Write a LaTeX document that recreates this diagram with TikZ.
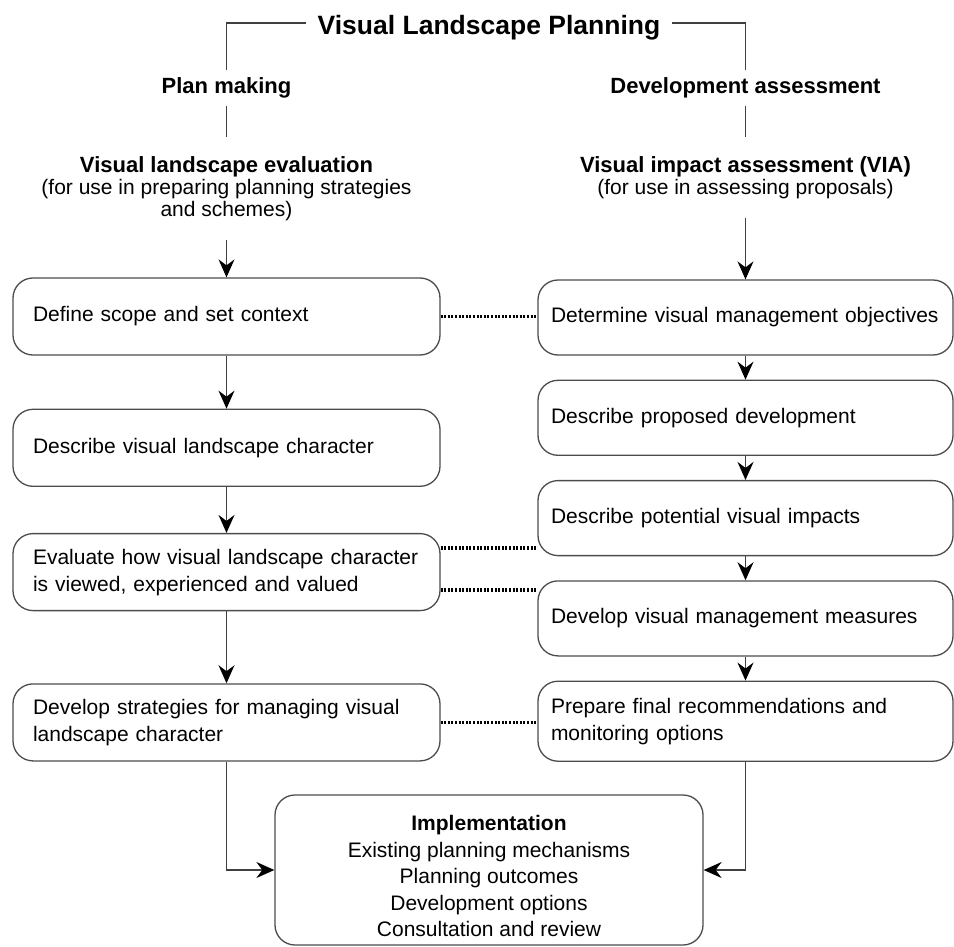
\documentclass[tikz,border=0pt]{standalone}
\usepackage{fontspec}
\setmainfont{Liberation Sans}
\usetikzlibrary{arrows.meta,positioning}

\begin{document}
\begin{tikzpicture}[
  x=1pt, y=1pt,
  node distance=24pt,
  lbox/.style={rectangle, draw=black!70, line width=1.3pt, rounded corners=20pt, text width=387pt, inner xsep=20pt, align=left, minimum height=77pt, font=\fontsize{21}{27}\selectfont},
  rbox/.style={lbox, text width=389pt, inner xsep=13pt, minimum height=75pt},
  implbox/.style={rectangle, draw=black!70, line width=1.3pt, rounded corners=20pt, align=center, minimum width=428pt, minimum height=150pt, font=\fontsize{21}{26.5}\selectfont},
  titlebox/.style={font=\fontsize{26.5}{30}\selectfont\bfseries, text height=24pt, text depth=0pt, inner xsep=11pt},
  heading/.style={font=\fontsize{22}{26}\selectfont\bfseries, text height=16pt, text depth=5pt, inner ysep=7.5pt},
  subhead/.style={font=\fontsize{21}{22}\selectfont, align=center, inner ysep=19pt},
  link/.style={line width=1.3pt, draw=black!75},
  arrow/.style={link, -{Stealth[length=18pt,width=16pt,inset=6pt,color=black]}},
  dotline/.style={line width=3.5pt, dash pattern=on 2pt off 1.6pt, draw=black}
]
\useasboundingbox (0,0) rectangle (954,-947);

% Title and the two streams
\node[titlebox] (title) at (489,-23) {Visual Landscape Planning};
\node[heading] (plan) at (226.5,-88) {Plan making};
\node[heading] (devass) at (745.5,-88) {Development assessment};
\node[subhead, below=31pt of plan] (vle) {{\fontsize{22}{22}\selectfont\bfseries Visual landscape evaluation}\\(for use in preparing planning strategies\\and schemes)};
\node[subhead, below=31pt of devass] (via) {{\fontsize{22}{22}\selectfont\bfseries Visual impact assessment (VIA)}\\(for use in assessing proposals)};

% Plan making
\node[lbox] (scope) at (226.5,-316.5) {Define scope and set context};
\node[lbox, below=53pt of scope] (character) {Describe visual landscape character};
\node[lbox, below=46pt of character] (evaluate) {Evaluate how visual landscape character\\is viewed, experienced and valued};
\node[lbox, below=72pt of evaluate] (strategies) {Develop strategies for managing visual\\landscape character};

% Development assessment
\node[rbox] (objectives) at (745.5,-317.5) {Determine visual management objectives};
\node[rbox, below=of objectives] (proposal) {Describe proposed development};
\node[rbox, below=of proposal] (impacts) {Describe potential visual impacts};
\node[rbox, below=of impacts] (measures) {Develop visual management measures};
\node[rbox, below=of measures, minimum height=80pt] (recommend) {Prepare final recommendations and\\monitoring options};

\node[implbox] (impl) at (489,-870) {\rule{0pt}{28pt}\textbf{Implementation}\\Existing planning mechanisms\\Planning outcomes\\Development options\\Consultation and review};

% Connectors
\draw[link] (plan.north) |- (title.west);
\draw[link] (devass.north) |- (title.east);
\draw[link] (plan) -- (vle);
\draw[link] (devass) -- (via);
\draw[arrow] (vle) -- (scope);
\draw[arrow] (scope) -- (character);
\draw[arrow] (character) -- (evaluate);
\draw[arrow] (evaluate) -- (strategies);
\draw[arrow] (via) -- (objectives);
\draw[arrow] (objectives) -- (proposal);
\draw[arrow] (proposal) -- (impacts);
\draw[arrow] (impacts) -- (measures);
\draw[arrow] (measures) -- (recommend);
\draw[arrow] (strategies.south) |- (impl.west);
\draw[arrow] (recommend.south) |- (impl.east);

% Links between the streams
\draw[dotline] (scope.east) -- (scope.east -| objectives.west);
\draw[dotline] ([yshift=24pt]evaluate.east) -- ([yshift=24pt]evaluate.east -| impacts.west);
\draw[dotline] ([yshift=-18pt]evaluate.east) -- ([yshift=-18pt]evaluate.east -| measures.west);
\draw[dotline] (strategies.east) -- (strategies.east -| recommend.west);
\end{tikzpicture}
\end{document}
